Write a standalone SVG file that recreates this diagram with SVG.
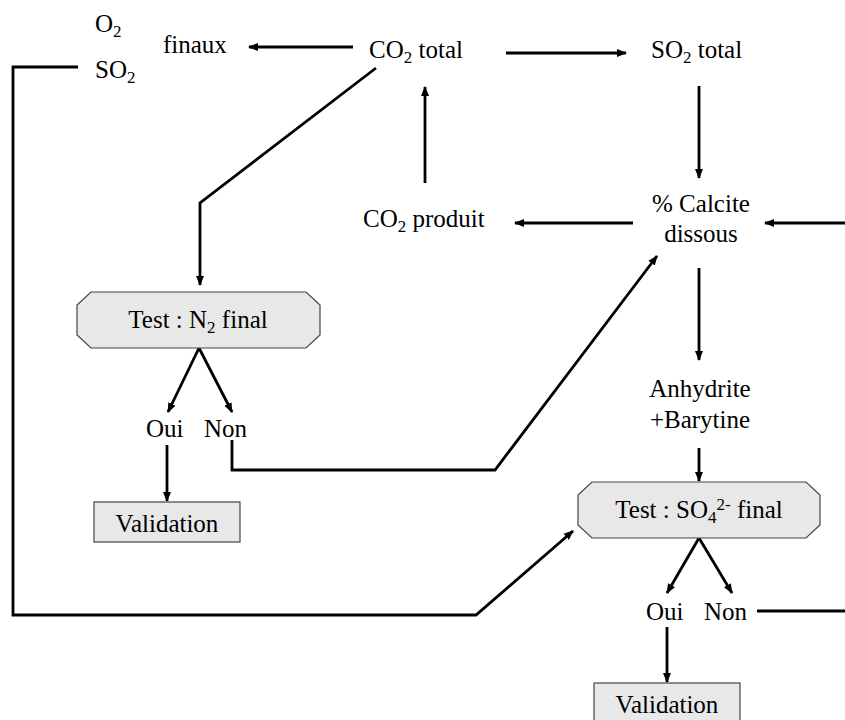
<svg xmlns="http://www.w3.org/2000/svg" width="845" height="720" viewBox="0 0 845 720">
<style>
text{font-family:"Liberation Serif","Times New Roman",serif;font-size:25px;fill:#000}
.c{text-anchor:middle}
.sub{font-size:17px}
.ln{fill:none;stroke:#000;stroke-width:2.8}
.box{fill:#e8e8e8;stroke:#444;stroke-width:1.2}
</style>
<defs>
<marker id="ah" viewBox="0 0 10 10" refX="9" refY="5" markerWidth="10" markerHeight="10" markerUnits="userSpaceOnUse" orient="auto"><path d="M0,1 L10,5 L0,9 z" fill="#000"/></marker>
</defs>
<g id="connectors">
<line class="ln" x1="353" y1="47" x2="249" y2="47" marker-end="url(#ah)"/>
<line class="ln" x1="506" y1="53" x2="626" y2="53" marker-end="url(#ah)"/>
<line class="ln" x1="699" y1="86" x2="699" y2="178" marker-end="url(#ah)"/>
<line class="ln" x1="633" y1="223" x2="515" y2="223" marker-end="url(#ah)"/>
<line class="ln" x1="845" y1="223" x2="765" y2="223" marker-end="url(#ah)"/>
<line class="ln" x1="425" y1="183" x2="425" y2="87" marker-end="url(#ah)"/>
<polyline class="ln" points="376,68 200,203 200,285" marker-end="url(#ah)"/>
<line class="ln" x1="699" y1="268" x2="699" y2="360" marker-end="url(#ah)"/>
<line class="ln" x1="199" y1="348" x2="168" y2="412" marker-end="url(#ah)"/>
<line class="ln" x1="199" y1="348" x2="232" y2="412" marker-end="url(#ah)"/>
<line class="ln" x1="167" y1="445" x2="167" y2="501" marker-end="url(#ah)"/>
<polyline class="ln" points="232,440 232,470 495,470 657,256" marker-end="url(#ah)"/>
<line class="ln" x1="699" y1="448" x2="699" y2="481" marker-end="url(#ah)"/>
<line class="ln" x1="699" y1="538" x2="667" y2="593" marker-end="url(#ah)"/>
<line class="ln" x1="699" y1="538" x2="732" y2="593" marker-end="url(#ah)"/>
<line class="ln" x1="667" y1="627" x2="667" y2="682" marker-end="url(#ah)"/>
<line class="ln" x1="757" y1="611" x2="845" y2="611"/>
<polyline class="ln" points="78,67 13,67 13,615 476,615 573,531" marker-end="url(#ah)"/>
</g>
<g id="o2so2">
<text x="95" y="32">O<tspan class="sub" dy="5">2</tspan></text>
<text x="95" y="78">SO<tspan class="sub" dy="5">2</tspan></text>
</g>
<g id="finaux"><text x="163" y="53">finaux</text></g>
<g id="co2total"><text x="369" y="58">CO<tspan class="sub" dy="5">2</tspan><tspan dy="-5"> total</tspan></text></g>
<g id="so2total"><text x="651" y="58">SO<tspan class="sub" dy="5">2</tspan><tspan dy="-5"> total</tspan></text></g>
<g id="calcite">
<text class="c" x="701" y="212">% Calcite</text>
<text class="c" x="701" y="242">dissous</text>
</g>
<g id="co2produit"><text x="363" y="227">CO<tspan class="sub" dy="5">2</tspan><tspan dy="-5"> produit</tspan></text></g>
<g id="testN2">
<polygon class="box" points="91,292 306,292 320,305 320,335 306,348 91,348 77,335 77,305"/>
<text class="c" x="198" y="328">Test : N<tspan class="sub" dy="5">2</tspan><tspan dy="-5"> final</tspan></text>
</g>
<g id="ouiNon1">
<text x="146" y="437">Oui</text>
<text x="204" y="437">Non</text>
</g>
<g id="validation1">
<rect class="box" x="94" y="502" width="146" height="40"/>
<text class="c" x="167" y="532">Validation</text>
</g>
<g id="anhydrite">
<text class="c" x="700" y="397">Anhydrite</text>
<text class="c" x="700" y="428">+Barytine</text>
</g>
<g id="testSO4">
<polygon class="box" points="592,482 806,482 820,495 820,525 806,538 592,538 578,525 578,495"/>
<text class="c" x="699" y="518">Test : SO<tspan class="sub" dy="5">4</tspan><tspan class="sub" dy="-13">2-</tspan><tspan dy="8"> final</tspan></text>
</g>
<g id="ouiNon2">
<text x="646" y="620">Oui</text>
<text x="704" y="620">Non</text>
</g>
<g id="validation2">
<rect class="box" x="594" y="683" width="146" height="42"/>
<text class="c" x="667" y="713">Validation</text>
</g>
</svg>
